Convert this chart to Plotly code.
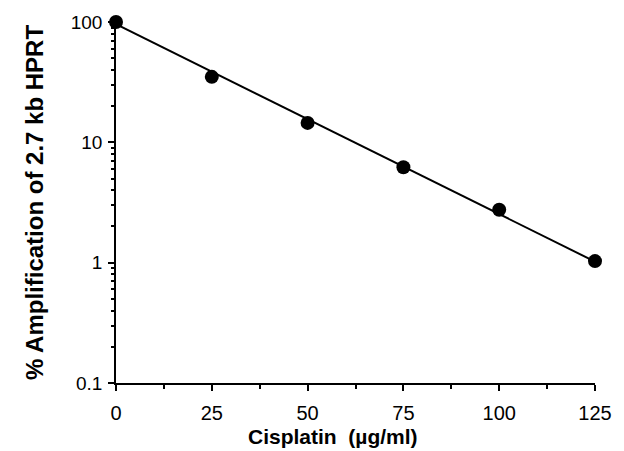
import plotly.graph_objects as go

# Data
cisplatin = [0, 25, 50, 75, 100, 125]
amplification = [100, 35, 14.5, 6.2, 2.75, 1.03]
fit_x = [0, 125]
fit_y = [96, 1.02]

x_ticks = [0, 25, 50, 75, 100, 125]
x_minor = [12.5, 37.5, 62.5, 87.5, 112.5]
y_ticks = [0.1, 1, 10, 100]
y_ticktext = ["0.1", "1", "10", "100"]
y_minor = [m * d for d in [0.1, 1, 10] for m in range(2, 10)]

fig = go.Figure()
fig.add_trace(go.Scatter(x=fit_x, y=fit_y, mode="lines",
                         line=dict(color="black", width=2), cliponaxis=False,
                         showlegend=False))
fig.add_trace(go.Scatter(x=cisplatin, y=amplification, mode="markers",
                         marker=dict(color="black", size=14), cliponaxis=False,
                         showlegend=False))

xtick_font = dict(family="Liberation Sans, Arial, sans-serif", size=20, color="black")
ytick_font = dict(family="Liberation Sans, Arial, sans-serif", size=19, color="black")
xtitle_font = dict(family="Liberation Sans, Arial, sans-serif", size=21, color="black")
ytitle_font = dict(family="Liberation Sans, Arial, sans-serif", size=24, color="black")

fig.update_layout(
    width=624, height=451,
    margin=dict(l=116, r=21, t=21, b=68),
    plot_bgcolor="white", paper_bgcolor="white",
    xaxis=dict(range=[0, 125], tickvals=x_ticks, ticks="outside", ticklen=6,
               tickwidth=1.5, tickcolor="black", showline=True, linecolor="black",
               linewidth=1.5, showgrid=False, zeroline=False, tickfont=xtick_font,
               ticklabelstandoff=5,
               minor=dict(tickvals=x_minor, ticks="outside", ticklen=4,
                          tickwidth=1.5, tickcolor="black")),
    yaxis=dict(type="log", range=[-1, 2], tickvals=y_ticks, ticktext=y_ticktext,
               ticks="outside", ticklen=6, tickwidth=1.5, tickcolor="black",
               showline=True, linecolor="black", linewidth=1.5, showgrid=False,
               zeroline=False, tickfont=ytick_font, ticklabelstandoff=2,
               minor=dict(tickvals=y_minor, ticks="outside", ticklen=3,
                          tickwidth=1.5, tickcolor="black"),
               title=dict(text="<b>% Amplification of 2.7 kb HPRT</b>", font=ytitle_font,
                          standoff=20)),
    annotations=[dict(text="<b>Cisplatin  (µg/ml)</b>", font=xtitle_font,
                      xref="paper", yref="paper", x=0.452, y=-0.149,
                      xanchor="center", yanchor="middle", showarrow=False)],
)

fig.write_html("out.html")
